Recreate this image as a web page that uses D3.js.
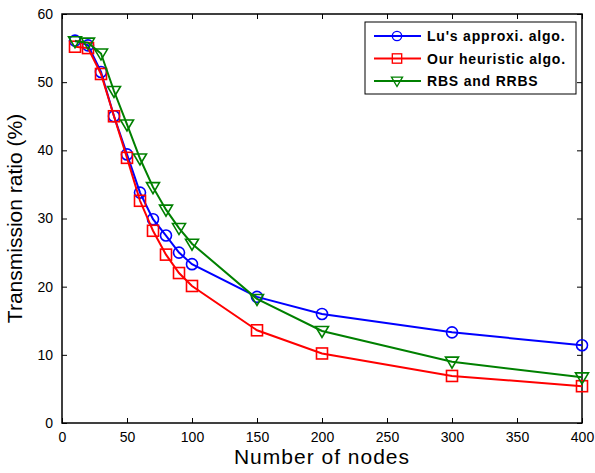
<!DOCTYPE html>
<html>
<head>
<meta charset="utf-8">
<script src="https://cdn.jsdelivr.net/npm/d3@7"></script>
<style>
  body { margin: 0; background: #fff; }
  text { font-family: "Liberation Sans", Arial, sans-serif; }
</style>
</head>
<body>
<script>
var nodes = [10, 20, 30, 40, 50, 60, 70, 80, 90, 100, 150, 200, 300, 400];
var luValues = [56.1, 55.4, 51.5, 45.0, 39.4, 33.8, 29.9, 27.5, 25.0, 23.3, 18.5, 16.0, 13.3, 11.4];
var oursValues = [55.2, 55.0, 51.2, 45.0, 38.9, 32.6, 28.2, 24.7, 22.0, 20.1, 13.6, 10.2, 6.9, 5.4];
var rbsValues = [56.0, 55.8, 54.2, 48.7, 43.8, 38.8, 34.6, 31.3, 28.6, 26.3, 18.2, 13.5, 9.0, 6.7];
var seriesNames = ["Lu's approxi. algo.", "Our heuristic algo.", "RBS and RRBS"];
var xTicks = [0, 50, 100, 150, 200, 250, 300, 350, 400];
var yTicks = [0, 10, 20, 30, 40, 50, 60];

var margin = {top: 14, right: 13, bottom: 50, left: 62},
    width = 595 - margin.left - margin.right,
    height = 473 - margin.top - margin.bottom;

var svg = d3.select("body").append("svg")
    .attr("width", 595)
    .attr("height", 473)
  .append("g")
    .attr("transform", "translate(" + margin.left + "," + margin.top + ")");

var x = d3.scaleLinear().domain([0, 400]).range([0, width]);
var y = d3.scaleLinear().domain([0, 60]).range([height, 0]);

// box with inward ticks on all sides
function styleAxis(g) {
  g.select(".domain").remove();
  g.selectAll("line").attr("stroke", "#000").attr("stroke-width", 1);
  g.selectAll("text").attr("font-size", "14px").attr("fill", "#000");
}
svg.append("g").attr("transform", "translate(0," + height + ")")
  .call(d3.axisBottom(x).tickValues(xTicks).tickSizeInner(-5).tickPadding(9))
  .call(styleAxis);
svg.append("g")
  .call(d3.axisLeft(y).tickValues(yTicks).tickSizeInner(-5).tickPadding(9))
  .call(styleAxis);
svg.append("g")
  .call(d3.axisTop(x).tickValues(xTicks).tickSizeInner(-5).tickFormat(""))
  .call(styleAxis);
svg.append("g").attr("transform", "translate(" + width + ",0)")
  .call(d3.axisRight(y).tickValues(yTicks).tickSizeInner(-5).tickFormat(""))
  .call(styleAxis);
svg.append("rect")
  .attr("width", width).attr("height", height)
  .attr("fill", "none").attr("stroke", "#000").attr("stroke-width", 1.5);

var series = [
  {name: seriesNames[0], values: luValues, color: "#0000ff", marker: "circle"},
  {name: seriesNames[1], values: oursValues, color: "#ff0000", marker: "square"},
  {name: seriesNames[2], values: rbsValues, color: "#008000", marker: "triangle"}
];

var line = d3.line()
  .x(function(d) { return x(d[0]); })
  .y(function(d) { return y(d[1]); });

function drawMarker(g, type, color) {
  if (type === "circle") {
    g.append("circle").attr("r", 5.5);
  } else if (type === "square") {
    g.append("rect").attr("x", -5.5).attr("y", -5.5).attr("width", 11).attr("height", 11);
  } else {
    g.append("path").attr("d", "M-6.5,-4.5L6.5,-4.5L0,6.5Z");
  }
  g.selectAll("*").attr("fill", "none").attr("stroke", color).attr("stroke-width", 1.6);
}

series.forEach(function(s) {
  var pts = nodes.map(function(n, i) { return [n, s.values[i]]; });
  svg.append("path").datum(pts)
    .attr("d", line)
    .attr("fill", "none")
    .attr("stroke", s.color)
    .attr("stroke-width", 2);
  svg.selectAll(".m-" + s.marker).data(pts).enter()
    .append("g")
    .attr("class", "m-" + s.marker)
    .attr("transform", function(d) { return "translate(" + x(d[0]) + "," + y(d[1]) + ")"; })
    .each(function() { drawMarker(d3.select(this), s.marker, s.color); });
});

// legend
var legend = svg.append("g").attr("transform", "translate(" + (365 - margin.left) + "," + (22 - margin.top) + ")");
legend.append("rect")
  .attr("width", 211).attr("height", 72)
  .attr("fill", "#fff").attr("stroke", "#000").attr("stroke-width", 1);
series.forEach(function(s, i) {
  var row = legend.append("g").attr("transform", "translate(0," + (14 + i * 22.5) + ")");
  row.append("line").attr("x1", 9).attr("x2", 56)
    .attr("stroke", s.color).attr("stroke-width", 2);
  var m = row.append("g").attr("transform", "translate(32,0)");
  drawMarker(m, s.marker, s.color);
  m.selectAll("*").attr("transform", "scale(0.85)");
  row.append("text").attr("x", 62).attr("y", 5)
    .attr("font-size", "14px").attr("font-weight", "bold")
    .attr("letter-spacing", "0.8px")
    .text(s.name);
});

// axis labels
svg.append("text")
  .attr("x", width / 2).attr("y", height + 41)
  .attr("text-anchor", "middle").attr("font-size", "21px")
  .attr("letter-spacing", "1px")
  .text("Number of nodes");
svg.append("text")
  .attr("transform", "translate(" + (-40) + "," + (height / 2) + ") rotate(-90)")
  .attr("text-anchor", "middle").attr("font-size", "21px")
  .text("Transmission ratio (%)");
</script>
</body>
</html>
